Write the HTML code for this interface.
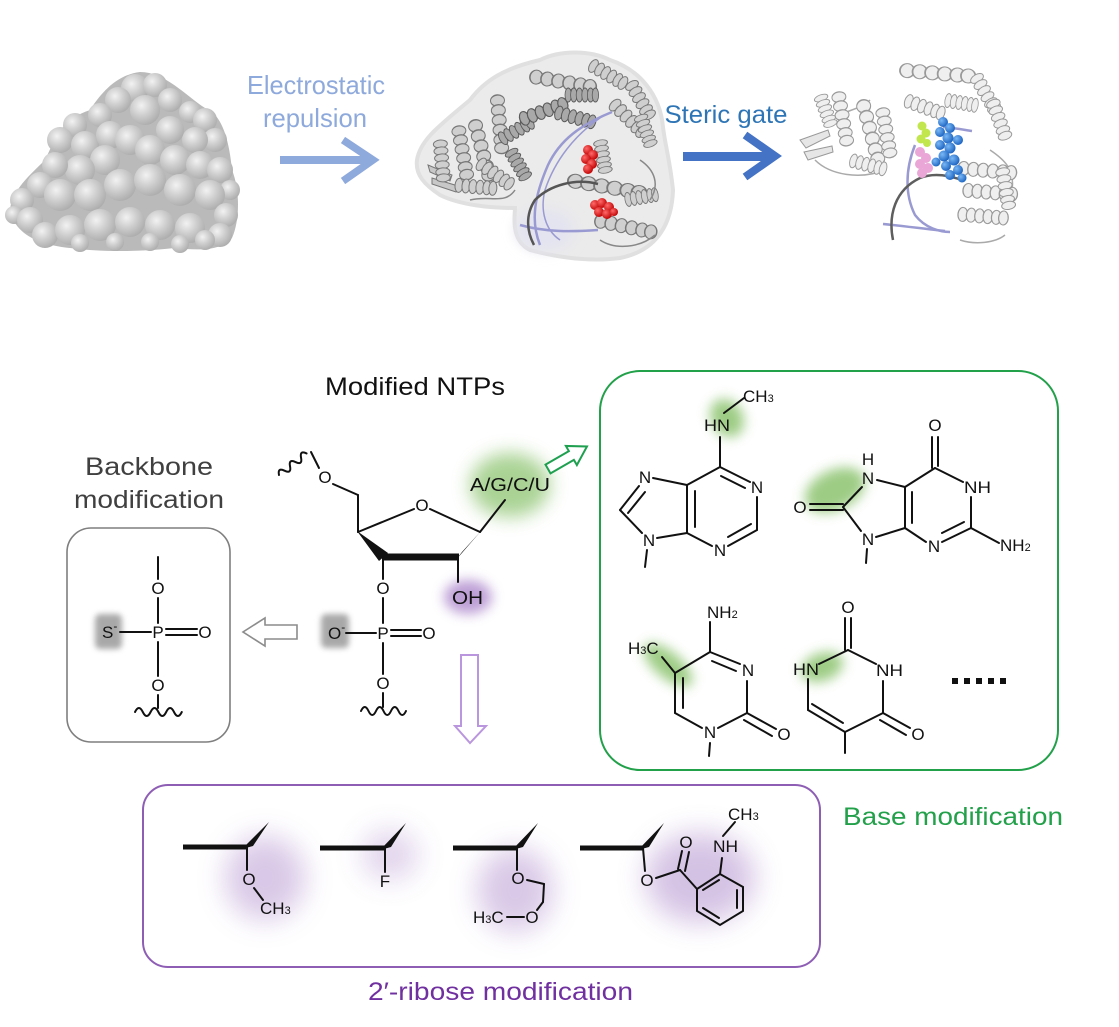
<!DOCTYPE html>
<html><head><meta charset="utf-8">
<style>
html,body{margin:0;padding:0;background:#fff;}
svg{display:block;}
text{font-family:"Liberation Sans",Arial,sans-serif;}
.c{font-size:17px;fill:#111;}
.b{stroke:#111;stroke-width:2;fill:none;stroke-linecap:round;}
</style></head>
<body>
<svg width="1119" height="1027" viewBox="0 0 1119 1027" xmlns="http://www.w3.org/2000/svg">
<defs>
  <radialGradient id="sph" cx="0.38" cy="0.35" r="0.7">
    <stop offset="0" stop-color="#f2f2f2"/>
    <stop offset="0.5" stop-color="#cdcdcd"/>
    <stop offset="1" stop-color="#ababab"/>
  </radialGradient>
  <radialGradient id="red" cx="0.35" cy="0.35" r="0.7">
    <stop offset="0" stop-color="#ff6a6a"/><stop offset="1" stop-color="#c00000"/>
  </radialGradient>
  <radialGradient id="blu" cx="0.35" cy="0.35" r="0.7">
    <stop offset="0" stop-color="#7ab8f5"/><stop offset="1" stop-color="#1a62c0"/>
  </radialGradient>
  <filter id="bl3" x="-50%" y="-50%" width="200%" height="200%"><feGaussianBlur stdDeviation="3"/></filter>
  <filter id="bl6" x="-50%" y="-50%" width="200%" height="200%"><feGaussianBlur stdDeviation="6"/></filter>
  <filter id="bl9" x="-60%" y="-60%" width="220%" height="220%"><feGaussianBlur stdDeviation="9"/></filter>
  <filter id="bl14" x="-80%" y="-80%" width="260%" height="260%"><feGaussianBlur stdDeviation="14"/></filter>
  <g id="hx">
    <ellipse cx="4" cy="0" rx="4" ry="7" fill="#cfcfcf" stroke="#777" stroke-width="1"/>
    <ellipse cx="11" cy="0" rx="4" ry="7" fill="#cfcfcf" stroke="#777" stroke-width="1"/>
    <ellipse cx="18" cy="0" rx="4" ry="7" fill="#cfcfcf" stroke="#777" stroke-width="1"/>
    <ellipse cx="25" cy="0" rx="4" ry="7" fill="#cfcfcf" stroke="#777" stroke-width="1"/>
    <ellipse cx="32" cy="0" rx="4" ry="7" fill="#cfcfcf" stroke="#777" stroke-width="1"/>
    <ellipse cx="38" cy="0" rx="4" ry="7" fill="#cfcfcf" stroke="#777" stroke-width="1"/>
  </g>
  <g id="hxd">
    <ellipse cx="4" cy="0" rx="4" ry="7" fill="#a9a9a9" stroke="#5a5a5a" stroke-width="1"/>
    <ellipse cx="11" cy="0" rx="4" ry="7" fill="#a9a9a9" stroke="#5a5a5a" stroke-width="1"/>
    <ellipse cx="18" cy="0" rx="4" ry="7" fill="#a9a9a9" stroke="#5a5a5a" stroke-width="1"/>
    <ellipse cx="25" cy="0" rx="4" ry="7" fill="#a9a9a9" stroke="#5a5a5a" stroke-width="1"/>
    <ellipse cx="32" cy="0" rx="4" ry="7" fill="#a9a9a9" stroke="#5a5a5a" stroke-width="1"/>
    <ellipse cx="38" cy="0" rx="4" ry="7" fill="#a9a9a9" stroke="#5a5a5a" stroke-width="1"/>
  </g>
  <g id="hxl">
    <ellipse cx="4" cy="0" rx="4" ry="7" fill="#efefef" stroke="#999" stroke-width="1"/>
    <ellipse cx="11" cy="0" rx="4" ry="7" fill="#efefef" stroke="#999" stroke-width="1"/>
    <ellipse cx="18" cy="0" rx="4" ry="7" fill="#efefef" stroke="#999" stroke-width="1"/>
    <ellipse cx="25" cy="0" rx="4" ry="7" fill="#efefef" stroke="#999" stroke-width="1"/>
    <ellipse cx="32" cy="0" rx="4" ry="7" fill="#efefef" stroke="#999" stroke-width="1"/>
    <ellipse cx="38" cy="0" rx="4" ry="7" fill="#efefef" stroke="#999" stroke-width="1"/>
  </g>
</defs>

<!-- ============ TOP: protein 1 (surface) ============ -->
<path d="M10,210 C12,190 30,175 45,160 C55,140 60,120 90,110 C100,95 115,75 140,72 C165,72 185,95 205,108 C225,115 230,150 232,170 C240,190 240,220 232,238 C220,252 195,250 175,248 C140,252 100,252 70,248 C40,245 15,235 10,210 Z" fill="#bababa"/>
<g fill="url(#sph)">
<circle cx="135" cy="88" r="14"/><circle cx="155" cy="85" r="12"/><circle cx="118" cy="100" r="13"/><circle cx="170" cy="100" r="12"/><circle cx="190" cy="112" r="11"/><circle cx="100" cy="115" r="12"/><circle cx="145" cy="110" r="15"/>
<circle cx="75" cy="125" r="12"/><circle cx="60" cy="140" r="13"/><circle cx="85" cy="145" r="14"/><circle cx="110" cy="135" r="14"/>
<circle cx="205" cy="120" r="12"/><circle cx="215" cy="140" r="12"/><circle cx="195" cy="140" r="13"/><circle cx="170" cy="130" r="14"/>
<circle cx="130" cy="140" r="15"/><circle cx="150" cy="150" r="15"/><circle cx="175" cy="160" r="15"/><circle cx="200" cy="165" r="14"/><circle cx="220" cy="170" r="13"/><circle cx="230" cy="190" r="10"/>
<circle cx="105" cy="160" r="15"/><circle cx="80" cy="170" r="15"/><circle cx="55" cy="165" r="13"/><circle cx="40" cy="185" r="13"/><circle cx="22" cy="200" r="12"/><circle cx="14" cy="215" r="9"/><circle cx="30" cy="220" r="13"/>
<circle cx="60" cy="195" r="16"/><circle cx="90" cy="195" r="16"/><circle cx="120" cy="185" r="16"/><circle cx="150" cy="180" r="16"/><circle cx="180" cy="190" r="16"/><circle cx="210" cy="195" r="15"/><circle cx="226" cy="215" r="12"/><circle cx="220" cy="235" r="12"/>
<circle cx="45" cy="235" r="13"/><circle cx="70" cy="230" r="15"/><circle cx="100" cy="225" r="16"/><circle cx="130" cy="222" r="15"/><circle cx="160" cy="225" r="15"/><circle cx="190" cy="228" r="15"/><circle cx="205" cy="240" r="10"/><circle cx="80" cy="243" r="9"/><circle cx="115" cy="242" r="9"/><circle cx="150" cy="242" r="9"/><circle cx="180" cy="244" r="9"/>
</g>

<!-- Electrostatic repulsion -->
<text x="316" y="94" font-size="26" fill="#8EA9DB" text-anchor="middle" textLength="138" lengthAdjust="spacingAndGlyphs">Electrostatic</text>
<text x="315" y="127" font-size="26" fill="#8EA9DB" text-anchor="middle" textLength="104" lengthAdjust="spacingAndGlyphs">repulsion</text>
<rect x="280" y="156" width="92" height="8" fill="#8EA9DB"/>
<polyline points="343,140 373,160 343,181" fill="none" stroke="#8EA9DB" stroke-width="7.5"/>

<!-- ============ protein 2 ============ -->
<path d="M417,160 C420,140 440,125 470,100 C485,80 505,68 540,60 C560,50 590,50 610,60 C640,70 660,95 663,127 C665,145 670,160 673,190 C672,220 660,250 620,258 C590,262 560,258 530,250 C510,240 515,215 515,208 C490,208 460,205 440,195 C425,185 415,175 417,160 Z" fill="#ebebeb" stroke="#e0e0e0" stroke-width="4"/>
<ellipse cx="545" cy="230" rx="30" ry="22" fill="#e4e4f0" filter="url(#bl6)"/>
<g>
<polygon points="428,165 452,175 450,181 430,172" fill="#c8c8c8" stroke="#777" stroke-width="1"/>
<polygon points="432,178 458,186 456,192 432,184" fill="#c8c8c8" stroke="#777" stroke-width="1"/>
<use href="#hx" transform="translate(440,140) rotate(85) scale(1.0,1)"/>
<use href="#hx" transform="translate(458,126) rotate(80) scale(1.3,1)"/>
<use href="#hx" transform="translate(474,120) rotate(75) scale(1.5,1)"/>
<use href="#hx" transform="translate(497,95) rotate(85) scale(1.4,1)"/>
<use href="#hx" transform="translate(478,162) rotate(35) scale(1.0,1)"/>
<use href="#hx" transform="translate(455,185) rotate(5) scale(1.0,1)"/>
<use href="#hxd" transform="translate(510,150) rotate(60) scale(0.8,1)"/>
<use href="#hxd" transform="translate(500,140) rotate(-30) scale(0.9,1)"/>
<use href="#hx" transform="translate(530,76) rotate(10) scale(1.6,1)"/>
<use href="#hx" transform="translate(590,64) rotate(30) scale(1.0,1)"/>
<use href="#hx" transform="translate(630,82) rotate(60) scale(1.0,1)"/>
<use href="#hx" transform="translate(612,102) rotate(45) scale(1.1,1)"/>
<use href="#hx" transform="translate(640,115) rotate(70) scale(0.8,1)"/>
<use href="#hxd" transform="translate(520,120) rotate(-20) scale(1.2,1)"/>
<use href="#hxd" transform="translate(555,112) rotate(15) scale(1.0,1)"/>
<use href="#hxd" transform="translate(565,95) rotate(0) scale(0.8,1)"/>
<use href="#hx" transform="translate(600,140) rotate(80) scale(0.8,1)"/>
<use href="#hx" transform="translate(568,180) rotate(10) scale(1.9,1)"/>
<use href="#hx" transform="translate(595,220) rotate(12) scale(1.5,1)"/>
<use href="#hx" transform="translate(625,200) rotate(-10) scale(0.8,1)"/>
<path d="M470,200 C490,195 505,205 515,190 M600,240 C615,250 640,248 655,235 M640,160 C655,170 660,185 650,200" stroke="#888" stroke-width="1.5" fill="none"/>
</g>
<path d="M612,112 C580,125 560,140 548,165 C535,195 530,220 540,245" stroke="#9a9ad2" stroke-width="2.5" fill="none"/>
<path d="M600,118 C575,135 555,160 545,190 C540,210 545,230 560,240" stroke="#9a9ad2" stroke-width="1.5" fill="none"/>
<path d="M520,225 C545,232 570,232 598,230" stroke="#9a9ad2" stroke-width="2.5" fill="none"/>
<path d="M598,184 C575,178 550,185 535,200 C525,215 527,232 534,245" stroke="#555" stroke-width="2.5" fill="none"/>
<g fill="url(#red)">
<circle cx="588" cy="150" r="5"/><circle cx="593" cy="155" r="5"/><circle cx="586" cy="159" r="5"/><circle cx="592" cy="164" r="5"/><circle cx="588" cy="169" r="5"/>
<circle cx="595" cy="205" r="5"/><circle cx="602" cy="203" r="5"/><circle cx="609" cy="207" r="5"/><circle cx="599" cy="212" r="5"/><circle cx="607" cy="214" r="5"/><circle cx="614" cy="212" r="4"/>
</g>

<!-- Steric gate -->
<text x="726" y="123" font-size="25" fill="#2E75B6" text-anchor="middle" textLength="123" lengthAdjust="spacingAndGlyphs">Steric gate</text>
<rect x="683" y="152" width="90" height="9" fill="#4472C4"/>
<polyline points="745,135 775,156 745,177" fill="none" stroke="#4472C4" stroke-width="8"/>

<!-- ============ protein 3 ============ -->
<g>
<polygon points="800,140 828,130 830,136 806,148" fill="#e6e6e6" stroke="#999" stroke-width="1"/>
<polygon points="804,152 832,146 833,152 808,160" fill="#e6e6e6" stroke="#999" stroke-width="1"/>
<path d="M815,160 C830,175 860,180 885,170 M830,120 C845,110 860,110 870,100 M990,150 C1005,160 1015,170 1012,190 M960,240 C975,245 995,243 1005,235" stroke="#aaa" stroke-width="1.5" fill="none"/>
<use href="#hxl" transform="translate(838,92) rotate(80) scale(1.3,1)"/>
<use href="#hxl" transform="translate(862,100) rotate(75) scale(1.6,1)"/>
<use href="#hxl" transform="translate(882,108) rotate(80) scale(1.2,1)"/>
<use href="#hxl" transform="translate(900,70) rotate(5) scale(1.8,1)"/>
<use href="#hxl" transform="translate(905,100) rotate(20) scale(1.0,1)"/>
<use href="#hxl" transform="translate(945,100) rotate(10) scale(0.8,1)"/>
<use href="#hxl" transform="translate(975,75) rotate(60) scale(1.0,1)"/>
<use href="#hxl" transform="translate(992,100) rotate(70) scale(1.0,1)"/>
<use href="#hxl" transform="translate(958,168) rotate(5) scale(1.4,1)"/>
<use href="#hxl" transform="translate(963,190) rotate(5) scale(1.3,1)"/>
<use href="#hxl" transform="translate(958,214) rotate(5) scale(1.2,1)"/>
<use href="#hxl" transform="translate(1002,168) rotate(80) scale(1.0,1)"/>
<use href="#hxl" transform="translate(850,160) rotate(15) scale(0.9,1)"/>
<use href="#hxl" transform="translate(820,95) rotate(70) scale(0.8,1)"/>
</g>
<path d="M943,127 C955,128 965,130 972,131" stroke="#9a9ad2" stroke-width="2.5" fill="none"/>
<path d="M915,145 C905,170 905,195 915,215 C925,228 940,232 950,232" stroke="#9a9ad2" stroke-width="2.5" fill="none"/>
<path d="M883,224 C905,226 925,229 945,231" stroke="#9a9ad2" stroke-width="2.5" fill="none"/>
<path d="M893,240 C888,215 895,190 920,178 C935,172 950,176 962,180" stroke="#5e5e5e" stroke-width="2.5" fill="none"/>
<g fill="#e9a6d6">
<circle cx="920" cy="152" r="5"/><circle cx="926" cy="158" r="5"/><circle cx="920" cy="164" r="5"/><circle cx="928" cy="168" r="5"/><circle cx="922" cy="173" r="5"/>
</g>
<g fill="#c2e64e">
<circle cx="922" cy="126" r="4.5"/><circle cx="926" cy="133" r="4.5"/><circle cx="921" cy="139" r="4.5"/><circle cx="927" cy="143" r="4"/>
</g>
<g fill="url(#blu)">
<circle cx="943" cy="122" r="5"/><circle cx="950" cy="128" r="5"/><circle cx="940" cy="132" r="5"/><circle cx="948" cy="138" r="5.5"/><circle cx="940" cy="145" r="5"/><circle cx="950" cy="148" r="5.5"/><circle cx="958" cy="140" r="5"/>
<circle cx="944" cy="156" r="5.5"/><circle cx="954" cy="160" r="5.5"/><circle cx="946" cy="166" r="5"/><circle cx="958" cy="170" r="5"/><circle cx="950" cy="175" r="5"/><circle cx="962" cy="178" r="4.5"/><circle cx="936" cy="162" r="4.5"/>
</g>

<!-- ============ Modified NTPs ============ -->
<text x="415" y="395" font-size="25" fill="#111" text-anchor="middle" textLength="180" lengthAdjust="spacingAndGlyphs">Modified NTPs</text>

<!-- glows -->
<ellipse cx="510" cy="485" rx="40" ry="32" fill="#7dbb5c" opacity="0.65" filter="url(#bl9)"/>
<ellipse cx="468" cy="597" rx="24" ry="17" fill="#9a6cc0" opacity="0.65" filter="url(#bl6)"/>
<rect x="321" y="614" width="28" height="34" rx="5" fill="#8c8c8c" opacity="0.75" filter="url(#bl3)"/>

<!-- nucleotide -->
<path class="b" transform="translate(279,475) rotate(-38)" d="M0,0 q3.5,-7 7,0 t7,0 t7,0 t7,0 t7,0"/>
<line class="b" x1="311" y1="452" x2="319" y2="468"/>
<text class="c" x="325" y="483" text-anchor="middle">O</text>
<line class="b" x1="333" y1="484" x2="358" y2="495"/>
<line class="b" x1="358" y1="495" x2="358" y2="532"/>
<line class="b" x1="358" y1="532" x2="414" y2="509"/>
<text class="c" x="422" y="511" text-anchor="middle">O</text>
<line class="b" x1="430" y1="509" x2="480" y2="532"/>
<polygon points="357,531 379,561 388,553" fill="#111"/>
<line x1="383" y1="557" x2="459" y2="557" stroke="#111" stroke-width="7"/>
<polygon points="455,561 462,552 481,531" fill="#111"/>
<line class="b" x1="480" y1="532" x2="505" y2="500"/>
<text x="470" y="491" font-size="18" fill="#111" textLength="80" lengthAdjust="spacingAndGlyphs">A/G/C/U</text>
<line class="b" x1="458" y1="557" x2="458" y2="582"/>
<text x="452" y="604" font-size="18" fill="#111" textLength="31" lengthAdjust="spacingAndGlyphs">OH</text>
<line class="b" x1="383" y1="557" x2="383" y2="579"/>
<text class="c" x="383" y="594" text-anchor="middle">O</text>
<line class="b" x1="383" y1="598" x2="383" y2="623"/>
<text class="c" x="383" y="639" text-anchor="middle">P</text>
<text class="c" x="328" y="639">O<tspan font-size="12" dy="-8">-</tspan></text>
<line class="b" x1="346" y1="633" x2="376" y2="633"/>
<line class="b" x1="391" y1="630" x2="421" y2="630"/>
<line class="b" x1="391" y1="636" x2="421" y2="636"/>
<text class="c" x="429" y="639" text-anchor="middle">O</text>
<line class="b" x1="383" y1="643" x2="383" y2="674"/>
<text class="c" x="383" y="689" text-anchor="middle">O</text>
<line class="b" x1="383" y1="693" x2="383" y2="707"/>
<path class="b" d="M361,711 q3.75,-8 7.5,0 t7.5,0 t7.5,0 t7.5,0 t7.5,0 t7.5,0"/>

<!-- hollow arrows -->
<polygon transform="translate(548,469) rotate(-30)" points="0,-5 27,-5 27,-11 45,0 27,11 27,5 0,5" fill="#fff" stroke="#1FA050" stroke-width="2"/>
<polygon points="297,625 265,625 265,618 243,632 265,646 265,639 297,639" fill="#fff" stroke="#8c8c8c" stroke-width="1.6"/>
<polygon points="461,655 478,655 478,726 486,726 470,743 455,726 461,726" fill="#fff" stroke="#b996dd" stroke-width="2"/>

<!-- ============ Backbone ============ -->
<text x="149" y="475" font-size="25" fill="#404040" text-anchor="middle" textLength="128" lengthAdjust="spacingAndGlyphs">Backbone</text>
<text x="149" y="508" font-size="25" fill="#404040" text-anchor="middle" textLength="150" lengthAdjust="spacingAndGlyphs">modification</text>
<rect x="67" y="528" width="163" height="214" rx="24" fill="none" stroke="#7f7f7f" stroke-width="1.6"/>
<rect x="95" y="614" width="27" height="35" rx="5" fill="#8c8c8c" opacity="0.75" filter="url(#bl3)"/>
<line class="b" x1="158" y1="557" x2="158" y2="579"/>
<text class="c" x="158" y="594" text-anchor="middle">O</text>
<line class="b" x1="158" y1="598" x2="158" y2="623"/>
<text class="c" x="158" y="638" text-anchor="middle">P</text>
<text class="c" x="102" y="638">S<tspan font-size="12" dy="-8">-</tspan></text>
<line class="b" x1="120" y1="632" x2="151" y2="632"/>
<line class="b" x1="166" y1="629" x2="197" y2="629"/>
<line class="b" x1="166" y1="635" x2="197" y2="635"/>
<text class="c" x="205" y="638" text-anchor="middle">O</text>
<line class="b" x1="158" y1="642" x2="158" y2="676"/>
<text class="c" x="158" y="691" text-anchor="middle">O</text>
<line class="b" x1="158" y1="695" x2="158" y2="708"/>
<path class="b" d="M135,712 q3.9,-8 7.8,0 t7.8,0 t7.8,0 t7.8,0 t7.8,0 t7.8,0"/>

<!-- ============ Base modification box ============ -->
<rect x="600" y="371" width="458" height="399" rx="40" fill="none" stroke="#22A04A" stroke-width="2"/>
<text x="843" y="825" font-size="25" fill="#22A04A" textLength="220" lengthAdjust="spacingAndGlyphs">Base modification</text>

<!-- base glows -->
<ellipse cx="727" cy="418" rx="16" ry="20" transform="rotate(-30 727 418)" fill="#7dbb5c" opacity="0.75" filter="url(#bl6)"/>
<ellipse cx="835" cy="490" rx="32" ry="20" transform="rotate(-25 835 490)" fill="#7dbb5c" opacity="0.75" filter="url(#bl6)"/>
<ellipse cx="668" cy="665" rx="30" ry="13" transform="rotate(40 668 665)" fill="#7dbb5c" opacity="0.75" filter="url(#bl6)"/>
<ellipse cx="822" cy="667" rx="22" ry="14" transform="rotate(-20 822 667)" fill="#7dbb5c" opacity="0.75" filter="url(#bl6)"/>

<!-- N6-methyl adenine -->
<text class="c" x="743" y="402">CH<tspan font-size="11">3</tspan></text>
<line class="b" x1="724" y1="413" x2="744" y2="398"/>
<text class="c" x="704" y="431" textLength="26" lengthAdjust="spacingAndGlyphs">HN</text>
<line class="b" x1="720" y1="437" x2="720" y2="467"/>
<line class="b" x1="720" y1="467" x2="750" y2="482"/>
<line class="b" x1="721" y1="476" x2="745" y2="488"/>
<text class="c" x="757" y="493" text-anchor="middle">N</text>
<line class="b" x1="757" y1="497" x2="757" y2="530"/>
<line class="b" x1="757" y1="530" x2="728" y2="546"/>
<line class="b" x1="751" y1="524" x2="728" y2="537"/>
<text class="c" x="720" y="556" text-anchor="middle">N</text>
<line class="b" x1="712" y1="546" x2="687" y2="533"/>
<line class="b" x1="687" y1="533" x2="687" y2="485"/>
<line class="b" x1="695" y1="527" x2="695" y2="491"/>
<line class="b" x1="687" y1="485" x2="720" y2="467"/>
<line class="b" x1="687" y1="485" x2="653" y2="478"/>
<text class="c" x="645" y="483" text-anchor="middle">N</text>
<line class="b" x1="639" y1="486" x2="620" y2="510"/>
<line class="b" x1="645" y1="492" x2="628" y2="513"/>
<line class="b" x1="620" y1="510" x2="642" y2="533"/>
<text class="c" x="649" y="546" text-anchor="middle">N</text>
<line class="b" x1="657" y1="538" x2="687" y2="533"/>
<line class="b" x1="647" y1="550" x2="645" y2="567"/>

<!-- 8-oxo guanine -->
<text class="c" x="935" y="431" text-anchor="middle">O</text>
<line class="b" x1="932" y1="437" x2="932" y2="468"/>
<line class="b" x1="938" y1="437" x2="938" y2="466"/>
<line class="b" x1="935" y1="468" x2="963" y2="482"/>
<text class="c" x="964" y="493" textLength="27" lengthAdjust="spacingAndGlyphs">NH</text>
<line class="b" x1="971" y1="497" x2="971" y2="528"/>
<line class="b" x1="971" y1="528" x2="999" y2="543"/>
<text class="c" x="1000" y="551">NH<tspan font-size="11">2</tspan></text>
<line class="b" x1="971" y1="528" x2="942" y2="542"/>
<line class="b" x1="964" y1="522" x2="942" y2="533"/>
<text class="c" x="934" y="552" text-anchor="middle">N</text>
<line class="b" x1="926" y1="542" x2="905" y2="528"/>
<line class="b" x1="905" y1="528" x2="905" y2="487"/>
<line class="b" x1="912" y1="523" x2="912" y2="492"/>
<line class="b" x1="905" y1="487" x2="935" y2="468"/>
<line class="b" x1="905" y1="487" x2="877" y2="480"/>
<text class="c" x="868" y="484" text-anchor="middle">N</text>
<text class="c" x="868" y="465" text-anchor="middle">H</text>
<line class="b" x1="862" y1="487" x2="843" y2="507"/>
<line class="b" x1="810" y1="504" x2="843" y2="504"/>
<line class="b" x1="810" y1="510" x2="843" y2="510"/>
<text class="c" x="800" y="513" text-anchor="middle">O</text>
<line class="b" x1="843" y1="507" x2="861" y2="531"/>
<text class="c" x="868" y="545" text-anchor="middle">N</text>
<line class="b" x1="876" y1="537" x2="905" y2="528"/>
<line class="b" x1="867" y1="549" x2="866" y2="563"/>

<!-- 5-methyl cytosine -->
<text class="c" x="707" y="618">NH<tspan font-size="11">2</tspan></text>
<line class="b" x1="710" y1="622" x2="710" y2="652"/>
<line class="b" x1="710" y1="652" x2="740" y2="664"/>
<line class="b" x1="712" y1="661" x2="736" y2="671"/>
<text class="c" x="748" y="676" text-anchor="middle">N</text>
<line class="b" x1="747" y1="681" x2="747" y2="713"/>
<line class="b" x1="747" y1="713" x2="776" y2="729"/>
<line class="b" x1="744" y1="720" x2="772" y2="736"/>
<text class="c" x="784" y="740" text-anchor="middle">O</text>
<line class="b" x1="747" y1="713" x2="718" y2="728"/>
<text class="c" x="710" y="738" text-anchor="middle">N</text>
<line class="b" x1="710" y1="743" x2="709" y2="756"/>
<line class="b" x1="702" y1="728" x2="675" y2="713"/>
<line class="b" x1="675" y1="713" x2="675" y2="673"/>
<line class="b" x1="683" y1="708" x2="683" y2="678"/>
<line class="b" x1="675" y1="673" x2="710" y2="652"/>
<line class="b" x1="675" y1="673" x2="662" y2="657"/>
<text class="c" x="628" y="654">H<tspan font-size="11">3</tspan><tspan>C</tspan></text>

<!-- uracil -->
<text class="c" x="848" y="613" text-anchor="middle">O</text>
<line class="b" x1="845" y1="618" x2="845" y2="650"/>
<line class="b" x1="851" y1="618" x2="851" y2="648"/>
<line class="b" x1="848" y1="650" x2="819" y2="664"/>
<text class="c" x="793" y="675" textLength="26" lengthAdjust="spacingAndGlyphs">HN</text>
<line class="b" x1="848" y1="650" x2="876" y2="664"/>
<text class="c" x="876" y="676" textLength="27" lengthAdjust="spacingAndGlyphs">NH</text>
<line class="b" x1="883" y1="681" x2="883" y2="713"/>
<line class="b" x1="883" y1="713" x2="910" y2="728"/>
<line class="b" x1="880" y1="720" x2="906" y2="735"/>
<text class="c" x="918" y="740" text-anchor="middle">O</text>
<line class="b" x1="883" y1="713" x2="845" y2="732"/>
<line class="b" x1="845" y1="732" x2="845" y2="753"/>
<line class="b" x1="845" y1="732" x2="808" y2="710"/>
<line class="b" x1="843" y1="723" x2="812" y2="704"/>
<line class="b" x1="808" y1="710" x2="808" y2="679"/>

<!-- dots -->
<g fill="#111">
<rect x="952" y="678" width="6" height="6"/><rect x="964" y="678" width="6" height="6"/><rect x="976" y="678" width="6" height="6"/><rect x="988" y="678" width="6" height="6"/><rect x="1000" y="678" width="6" height="6"/>
</g>

<!-- ============ 2'-ribose box ============ -->
<ellipse cx="265" cy="878" rx="40" ry="42" fill="#9b6fc0" opacity="0.38" filter="url(#bl14)"/>
<ellipse cx="390" cy="855" rx="28" ry="25" fill="#9b6fc0" opacity="0.3" filter="url(#bl14)"/>
<ellipse cx="515" cy="890" rx="38" ry="42" fill="#9b6fc0" opacity="0.38" filter="url(#bl14)"/>
<ellipse cx="700" cy="878" rx="55" ry="45" fill="#9b6fc0" opacity="0.42" filter="url(#bl14)"/>
<rect x="143" y="785" width="677" height="182" rx="25" fill="none" stroke="#8E5EB5" stroke-width="2"/>
<text x="368" y="1000" font-size="25" fill="#7030A0" textLength="265" lengthAdjust="spacingAndGlyphs">2′-ribose modification</text>

<!-- 2'-OMe -->
<line x1="183" y1="847" x2="247" y2="847" stroke="#111" stroke-width="5"/>
<polygon points="242,849 253,846 269,822" fill="#111"/>
<line class="b" x1="247" y1="847" x2="247" y2="870"/>
<text class="c" x="249" y="885" text-anchor="middle">O</text>
<line class="b" x1="254" y1="888" x2="263" y2="900"/>
<text class="c" x="260" y="914">CH<tspan font-size="11">3</tspan></text>

<!-- 2'-F -->
<line x1="320" y1="848" x2="385" y2="848" stroke="#111" stroke-width="5"/>
<polygon points="380,850 391,847 406,823" fill="#111"/>
<line class="b" x1="385" y1="848" x2="385" y2="872"/>
<text class="c" x="385" y="887" text-anchor="middle">F</text>

<!-- 2'-MOE -->
<line x1="453" y1="848" x2="517" y2="848" stroke="#111" stroke-width="5"/>
<polygon points="512,850 523,847 538,823" fill="#111"/>
<line class="b" x1="517" y1="848" x2="517" y2="870"/>
<text class="c" x="518" y="884" text-anchor="middle">O</text>
<line class="b" x1="527" y1="880" x2="544" y2="884"/>
<line class="b" x1="544" y1="884" x2="543" y2="902"/>
<line class="b" x1="543" y1="902" x2="537" y2="910"/>
<text class="c" x="532" y="923" text-anchor="middle">O</text>
<text class="c" x="473" y="923">H<tspan font-size="11">3</tspan><tspan>C</tspan></text>
<line class="b" x1="507" y1="917" x2="524" y2="917"/>

<!-- 2'-NMIA -->
<line x1="580" y1="848" x2="643" y2="848" stroke="#111" stroke-width="5"/>
<polygon points="638,850 649,847 664,823" fill="#111"/>
<line class="b" x1="643" y1="848" x2="645" y2="871"/>
<text class="c" x="647" y="886" text-anchor="middle">O</text>
<line class="b" x1="656" y1="878" x2="680" y2="870"/>
<line class="b" x1="678" y1="869" x2="682" y2="851"/>
<line class="b" x1="685" y1="871" x2="689" y2="852"/>
<text class="c" x="686" y="848" text-anchor="middle">O</text>
<line class="b" x1="680" y1="870" x2="697" y2="889"/>
<polygon points="697,889 720,874 743,887 743,911 720,925 697,911" fill="none" stroke="#111" stroke-width="2"/>
<line class="b" x1="703" y1="890" x2="719" y2="880"/>
<line class="b" x1="737" y1="890" x2="737" y2="908"/>
<line class="b" x1="703" y1="908" x2="719" y2="918"/>
<line class="b" x1="720" y1="874" x2="722" y2="858"/>
<text class="c" x="713" y="852" textLength="25" lengthAdjust="spacingAndGlyphs">NH</text>
<line class="b" x1="723" y1="836" x2="735" y2="822"/>
<text class="c" x="728" y="820">CH<tspan font-size="11">3</tspan></text>

</svg>
</body></html>
